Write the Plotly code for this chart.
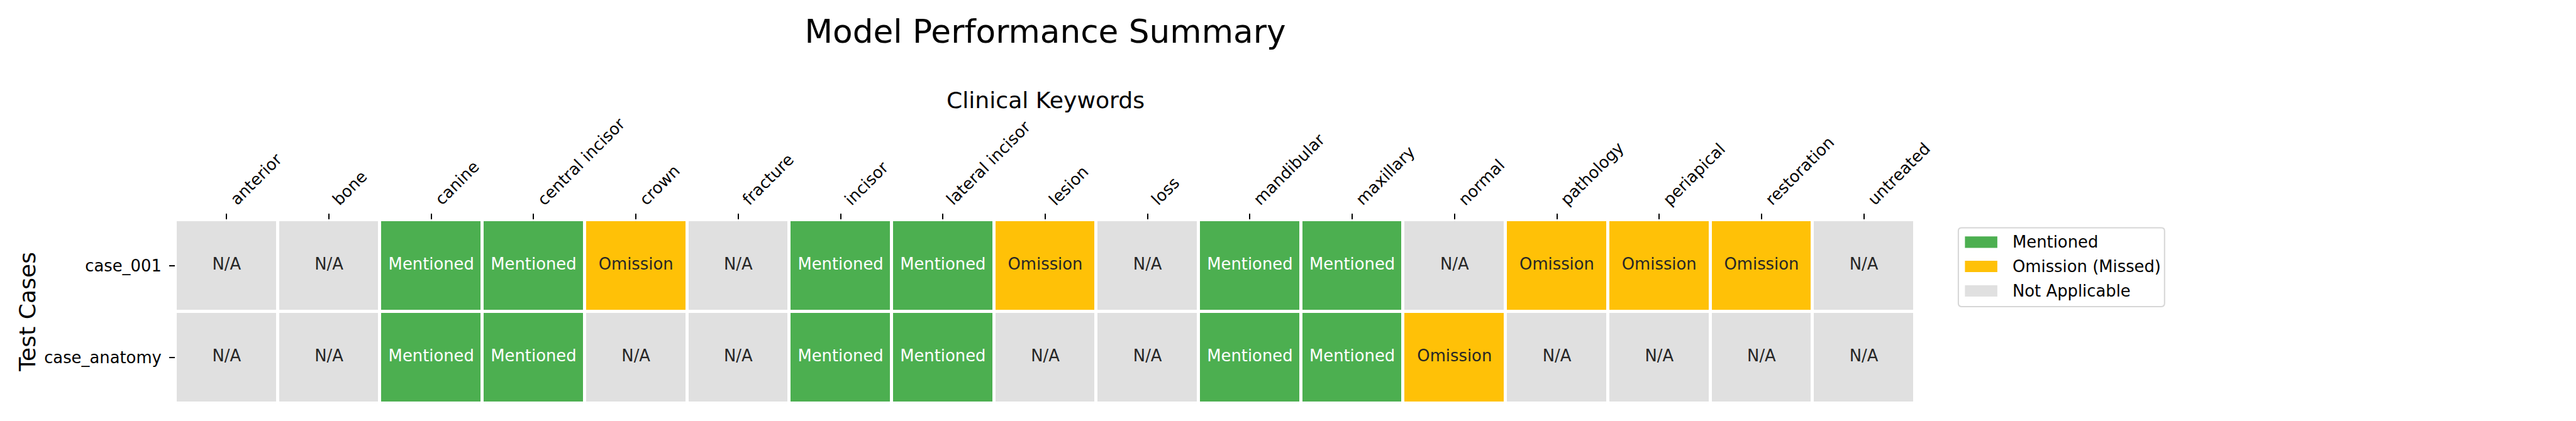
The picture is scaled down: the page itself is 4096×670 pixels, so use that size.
import plotly.graph_objects as go

# ---------------- data ----------------
categories = ["anterior", "bone", "canine", "central incisor", "crown", "fracture",
              "incisor", "lateral incisor", "lesion", "loss", "mandibular", "maxillary",
              "normal", "pathology", "periapical", "restoration", "untreated"]
cases = ["case_001", "case_anatomy"]
case_001_status = ["N/A", "N/A", "Mentioned", "Mentioned", "Omission", "N/A",
                   "Mentioned", "Mentioned", "Omission", "N/A", "Mentioned", "Mentioned",
                   "N/A", "Omission", "Omission", "Omission", "N/A"]
case_anatomy_status = ["N/A", "N/A", "Mentioned", "Mentioned", "N/A", "N/A",
                       "Mentioned", "Mentioned", "N/A", "N/A", "Mentioned", "Mentioned",
                       "Omission", "N/A", "N/A", "N/A", "N/A"]
status_order = ["N/A", "Omission", "Mentioned"]
legend_labels = ["Mentioned", "Omission (Missed)", "Not Applicable"]
legend_status = ["Mentioned", "Omission", "N/A"]

title_text = "Model Performance Summary"
xaxis_title = "Clinical Keywords"
yaxis_title = "Test Cases"

# ---------------- styles ----------------
status_colors = {"Mentioned": "#4CAF50", "Omission": "#FFC107", "N/A": "#E0E0E0"}
text_colors = {"Mentioned": "#FFFFFF", "Omission": "#262626", "N/A": "#262626"}
FONT = "DejaVu Sans"
PT = 0.62 * 300 / 72  # px per point at this scale
W, H = 4096, 670
L, R, T, B = 279.0, 3045.4, 350.3, 641.7


def px_x(p):
    return (p - L) / (R - L)


def px_y(p):
    return (B - p) / (B - T)


rows = [case_001_status, case_anatomy_status]
z = [[status_order.index(s) for s in row] for row in rows]
colorscale = [[0.0, status_colors["N/A"]], [0.5, status_colors["Omission"]],
              [1.0, status_colors["Mentioned"]]]

fig = go.Figure()
fig.add_trace(go.Heatmap(
    x=categories, y=cases, z=z, zmin=0, zmax=2,
    colorscale=colorscale, showscale=False,
    xgap=5, ygap=5, hoverinfo="skip",
))

# cell annotations (text traces), split by text colour
for color in ["#FFFFFF", "#262626"]:
    xs, ys, ts = [], [], []
    for case, row in zip(cases, rows):
        for cat, s in zip(categories, row):
            if text_colors[s] == color:
                xs.append(cat)
                ys.append(case)
                ts.append(s)
    fig.add_trace(go.Scatter(
        x=xs, y=ys, text=ts, mode="text", textposition="middle center",
        textfont=dict(family=FONT, size=10 * PT, color=color),
        hoverinfo="skip", showlegend=False,
    ))

annotations = []
# rotated x tick labels
for cat in categories:
    annotations.append(dict(
        x=cat, xref="x", y=1, yref="paper", yshift=17.7,
        text=cat, showarrow=False, textangle=-45,
        xanchor="left", yanchor="bottom", borderpad=0, borderwidth=0,
        font=dict(family=FONT, size=10 * PT, color="#000000"),
    ))
# axis titles
annotations.append(dict(
    x=0.5, xref="paper", y=px_y(160.6), yref="paper", text=xaxis_title,
    showarrow=False, xanchor="center", yanchor="middle",
    font=dict(family=FONT, size=14 * PT, color="#000000"),
))
annotations.append(dict(
    x=px_x(42.8), xref="paper", y=0.5, yref="paper", text=yaxis_title,
    showarrow=False, textangle=-90, xanchor="center", yanchor="middle",
    font=dict(family=FONT, size=14 * PT, color="#000000"),
))

# legend (drawn box)
shapes = []
bx0, by0, bx1, by1, rr = 3114.3, 362.7, 3442.2, 487.9, 5.0


def P(x, y):
    return f"{px_x(x):.6f},{px_y(y):.6f}"


path = (f"M {P(bx0 + rr, by0)} L {P(bx1 - rr, by0)} Q {P(bx1, by0)} {P(bx1, by0 + rr)} "
        f"L {P(bx1, by1 - rr)} Q {P(bx1, by1)} {P(bx1 - rr, by1)} "
        f"L {P(bx0 + rr, by1)} Q {P(bx0, by1)} {P(bx0, by1 - rr)} "
        f"L {P(bx0, by0 + rr)} Q {P(bx0, by0)} {P(bx0 + rr, by0)} Z")
shapes.append(dict(type="path", xref="paper", yref="paper", path=path,
                   fillcolor="#FFFFFF", line=dict(color="#D6D6D6", width=2)))
row_centers = [385.6, 424.1, 463.1]
for lab, st, cy in zip(legend_labels, legend_status, row_centers):
    shapes.append(dict(type="rect", xref="paper", yref="paper",
                       x0=px_x(3124.8), x1=px_x(3176.3),
                       y0=px_y(cy + 9), y1=px_y(cy - 9),
                       fillcolor=status_colors[st], line=dict(width=0)))
    annotations.append(dict(
        x=px_x(3198.6), xref="paper", y=px_y(cy), yref="paper", text=lab,
        showarrow=False, xanchor="left", yanchor="middle",
        font=dict(family=FONT, size=10 * PT, color="#000000"),
    ))

fig.update_layout(
    width=W, height=H, autosize=False,
    margin=dict(l=L, r=W - R, t=T, b=H - B, autoexpand=False),
    paper_bgcolor="#FFFFFF", plot_bgcolor="#FFFFFF",
    font=dict(family=FONT, color="#000000"),
    title=dict(text=title_text, x=0.5, xref="paper", xanchor="center",
               y=1 - 49.9 / H, yref="container", yanchor="middle",
               font=dict(family=FONT, size=20 * PT, color="#000000")),
    showlegend=False,
    annotations=annotations, shapes=shapes,
)
fig.update_xaxes(side="top", showgrid=False, zeroline=False, showline=False,
                 range=[-0.5, len(categories) - 0.5], autorange=False,
                 ticks="outside", ticklen=9, tickwidth=2, tickcolor="#000000",
                 showticklabels=False, fixedrange=True)
fig.update_yaxes(range=[len(cases) - 0.5, -0.5], autorange=False,
                 showgrid=False, zeroline=False, showline=False,
                 ticks="outside", ticklen=9, tickwidth=2, tickcolor="#000000",
                 ticklabelstandoff=7,
                 tickfont=dict(family=FONT, size=10 * PT, color="#000000"),
                 fixedrange=True)

fig.write_html(
    "out.html",
    config={"displayModeBar": False},
    post_script="document.body.style.margin='0';document.body.style.padding='0';"
                "document.body.style.overflow='hidden';",
)
